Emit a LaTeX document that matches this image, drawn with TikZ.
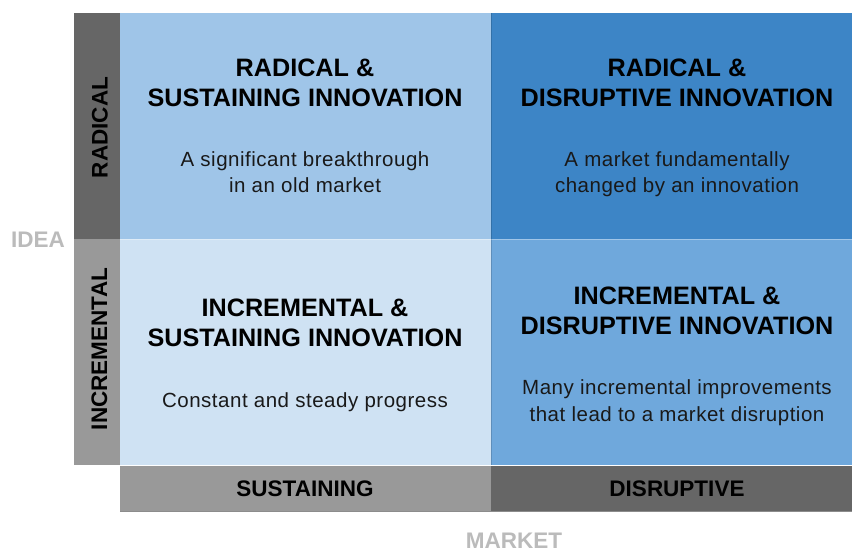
\documentclass[tikz,border=0pt]{standalone}
\usepackage{fontspec}
\setmainfont{Liberation Sans}
\newfontfamily\bodyfont[LetterSpace=2.5]{Liberation Sans}

\definecolor{radsus}{HTML}{9FC5E8}
\definecolor{raddis}{HTML}{3D85C6}
\definecolor{incsus}{HTML}{CFE2F3}
\definecolor{incdis}{HTML}{6FA8DC}
\definecolor{darkbar}{HTML}{666666}
\definecolor{lightbar}{HTML}{999999}
\definecolor{axisgray}{HTML}{BBBBBB}

\tikzset{
	head/.style={font=\fontsize{25.2}{30}\selectfont\bfseries, anchor=base, inner sep=0pt},
	body/.style={font=\bodyfont\fontsize{20.5}{26}\selectfont, anchor=base, inner sep=0pt, text=black!90},
	barlabel/.style={font=\fontsize{22.5}{27}\selectfont\bfseries, inner sep=0pt},
	axislabel/.style={font=\fontsize{22.5}{27}\selectfont\bfseries, text=axisgray, anchor=base, inner sep=0pt}
}

\begin{document}
\begin{tikzpicture}[x=1pt, y=-1pt]
			\useasboundingbox (0,0) rectangle (852,553);
			\fill[white] (0,0) rectangle (852,553);

			\foreach \xa/\ya/\xb/\yb/\c in {120/13/491/239/radsus, 491/13/852/239/raddis, 120/239/491/465/incsus, 491/239/852/465/incdis}
				\fill[\c] (\xa,\ya) rectangle (\xb,\yb);
			\draw[white, opacity=0.35, very thin] (120,239) -- (852,239);
			\draw[black, opacity=0.15, very thin] (491,13) -- (491,465);

			\fill[darkbar] (74,13) rectangle (120,239);
			\fill[lightbar] (74,239) rectangle (120,465);
			\fill[lightbar] (120,466) rectangle (491,511);
			\fill[darkbar] (491,466) rectangle (852,511);
			\draw[black!45, thin] (120,511) -- (852,511);

			\node[barlabel, rotate=90] (radical) at (100,127.5) {RADICAL};
			\node[barlabel, rotate=90] (incremental) at (99.5,349) {INCREMENTAL};
			\node[barlabel] (sustaining) at (305,489) {SUSTAINING};
			\node[barlabel] (disruptive) at (677,489) {DISRUPTIVE};

			\node[axislabel] (idea) at (38,248) {IDEA};
			\node[axislabel] (market) at (514,548.5) {MARKET};

			\node[head] (rs-head1) at (305,77) {RADICAL \&};
			\node[head] (rs-head2) at (305,107) {SUSTAINING INNOVATION};
			\node[body] (rs-text1) at (305,167) {A significant breakthrough};
			\node[body] (rs-text2) at (305,193) {in an old market};

			\node[head] (rd-head1) at (677,77) {RADICAL \&};
			\node[head] (rd-head2) at (677,107) {DISRUPTIVE INNOVATION};
			\node[body] (rd-text1) at (677,167) {A market fundamentally};
			\node[body] (rd-text2) at (677,193) {changed by an innovation};

			\node[head] (is-head1) at (305,317) {INCREMENTAL \&};
			\node[head] (is-head2) at (305,347) {SUSTAINING INNOVATION};
			\node[body] (is-text1) at (305,408) {Constant and steady progress};

			\node[head] (id-head1) at (677,305) {INCREMENTAL \&};
			\node[head] (id-head2) at (677,335) {DISRUPTIVE INNOVATION};
			\node[body] (id-text1) at (677,395) {Many incremental improvements};
			\node[body] (id-text2) at (677,421) {that lead to a market disruption};
		\end{tikzpicture}
\end{document}
